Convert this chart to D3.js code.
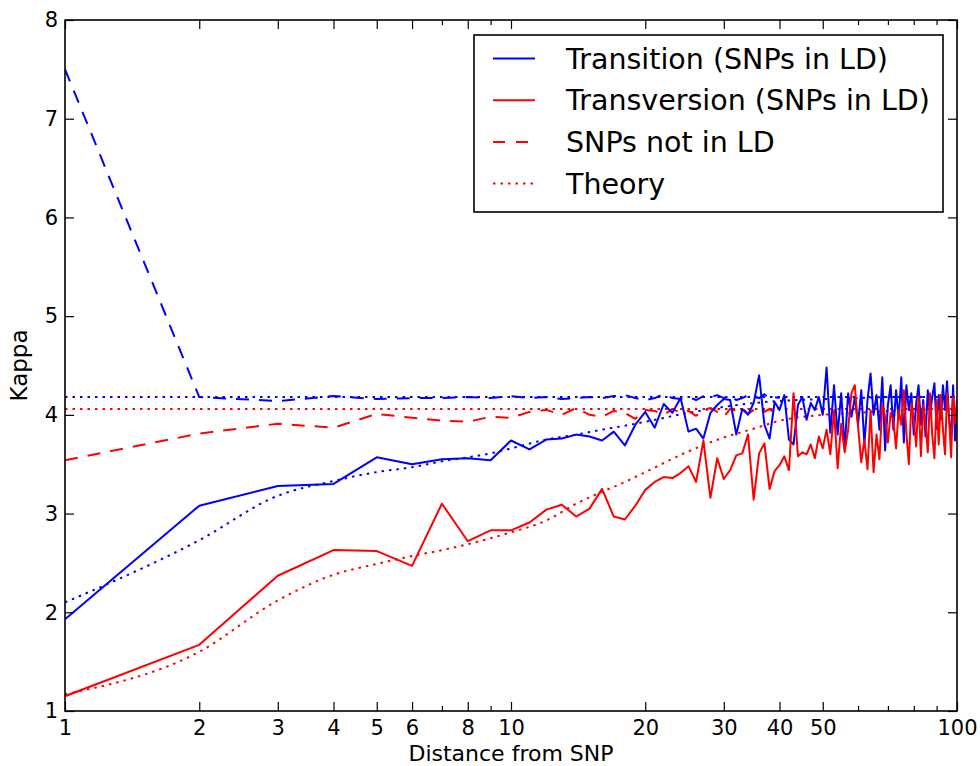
<!DOCTYPE html>
<html>
<head>
<meta charset="utf-8">
<script src="https://cdn.jsdelivr.net/npm/d3@7"></script>
<style>
  body { margin: 0; background: #fff; }
  svg text { font-family: "DejaVu Sans", sans-serif; fill: #000; }
</style>
</head>
<body>
<div id="chart-area"></div>
<script>
// Kappa vs distance from SNP (log x axis)
const MARGIN = {LEFT: 65, RIGHT: 23, TOP: 20, BOTTOM: 55}
const WIDTH = 980
const HEIGHT = 766

// distances 1..100 (one value per integer distance)
const distance = d3.range(1, 101)

// Transition, SNPs in LD (blue solid)
const transitionLD = [
  1.93, 3.08, 3.28, 3.30, 3.57, 3.50, 3.55, 3.56, 3.54, 3.74,
  3.65, 3.75, 3.76, 3.80, 3.78, 3.74, 3.83, 3.69, 3.90, 4.03,
  3.87, 4.11, 4.02, 4.17, 3.83, 3.86, 3.76, 4.02, 4.10, 4.16,
  4.15, 3.80, 4.06, 4.00, 4.12, 4.40, 3.90, 3.76, 4.13, 4.05,
  4.20, 3.75, 3.70, 4.10, 4.18, 3.95, 4.12, 4.05, 4.18, 4.00,
  4.48, 3.82, 4.30, 3.80, 4.22, 3.66, 4.22, 3.98, 4.18, 3.90,
  4.25, 3.70, 4.15, 4.42, 4.00, 4.20, 3.85, 4.38, 3.64, 4.10,
  4.30, 3.85, 4.25, 3.96, 4.38, 3.72, 4.30, 4.05, 4.22, 3.80,
  4.12, 4.30, 3.90, 4.15, 3.78, 4.25, 4.00, 4.18, 4.32, 3.86,
  4.20, 3.95, 4.30, 4.05, 4.34, 3.95, 3.75, 4.30, 3.74, 4.10
]

// Transversion, SNPs in LD (red solid)
const transversionLD = [
  1.15, 1.67, 2.37, 2.63, 2.62, 2.47, 3.10, 2.72, 2.83, 2.83,
  2.91, 3.04, 3.09, 2.97, 3.05, 3.25, 2.97, 2.94, 3.08, 3.24,
  3.32, 3.37, 3.36, 3.41, 3.48, 3.32, 3.74, 3.16, 3.56, 3.35,
  3.44, 3.59, 3.61, 3.80, 3.14, 3.61, 3.71, 3.25, 3.43, 3.49,
  3.58, 3.44, 4.22, 3.58, 3.62, 3.60, 3.70, 3.56, 3.78, 3.66,
  3.85, 3.60, 4.05, 3.46, 3.91, 3.62, 3.85, 4.22, 4.30, 3.88,
  3.52, 3.75, 3.45, 4.05, 3.42, 3.80, 3.55, 4.10, 3.98, 3.72,
  4.02, 3.95, 3.66, 4.05, 3.90, 4.25, 3.82, 3.50, 4.12, 3.95,
  3.68, 4.18, 3.58, 4.10, 3.92, 3.62, 4.22, 3.80, 3.56, 4.15,
  3.70, 4.20, 3.85, 3.60, 4.22, 3.98, 3.57, 4.18, 3.92, 4.15
]

// SNPs not in LD (dashed), distances 1..40
const transitionNotLD = [
  7.50, 4.18, 4.14, 4.19, 4.16, 4.17, 4.17, 4.18, 4.17, 4.19,
  4.17, 4.18, 4.16, 4.17, 4.18, 4.17, 4.19, 4.20, 4.17, 4.15,
  4.17, 4.21, 4.17, 4.16, 4.18, 4.15, 4.19, 4.18, 4.20, 4.17,
  4.19, 4.15, 4.17, 4.20, 4.18, 4.17, 4.21, 4.16, 4.18, 4.17
]
const transversionNotLD = [
  3.54, 3.81, 3.91, 3.87, 4.01, 3.97, 3.94, 3.93, 3.98, 3.97,
  4.03, 4.05, 4.00, 4.07, 4.00, 3.98, 4.04, 4.02, 3.96, 4.05,
  4.04, 4.00, 4.06, 4.02, 4.04, 3.99, 4.05, 4.07, 4.03, 3.98,
  4.06, 4.04, 4.07, 4.01, 4.05, 4.08, 4.03, 4.06, 4.02, 4.05
]

// Theory curves (dotted)
const theoryDistance = [1, 2, 3, 4, 5, 6, 7, 8, 9, 10, 12, 14, 16, 18, 20, 25, 30, 35, 40, 50, 60, 70, 80, 100]
const theoryTransition = [2.10, 2.73, 3.18, 3.33, 3.42, 3.47, 3.53, 3.57, 3.61, 3.66, 3.75, 3.80, 3.85, 3.89, 3.93, 4.02, 4.08, 4.12, 4.14, 4.16, 4.17, 4.18, 4.18, 4.18]
const theoryTransversion = [1.17, 1.60, 2.12, 2.38, 2.49, 2.57, 2.63, 2.69, 2.75, 2.81, 2.93, 3.10, 3.22, 3.32, 3.42, 3.63, 3.77, 3.86, 3.94, 4.00, 4.02, 4.04, 4.05, 4.07]
// asymptotes
const asymptoteTransition = 4.18
const asymptoteTransversion = 4.06

// axis ticks
const xMajorTicks = [1, 2, 3, 4, 5, 6, 8, 10, 20, 30, 40, 50, 100]
const xMinorTicks = [7, 9, 60, 70, 80, 90]
const yTicks = [1, 2, 3, 4, 5, 6, 7, 8]

const DASHED = "13,10"
const DOTTED = "2.5,5"

const legendItems = [
  {label: "Transition (SNPs in LD)", color: "blue", dash: null},
  {label: "Transversion (SNPs in LD)", color: "red", dash: null},
  {label: "SNPs not in LD", color: "red", dash: "12,11"},
  {label: "Theory", color: "red", dash: DOTTED}
]

const svg = d3.select("#chart-area").append("svg")
    .attr("width", WIDTH)
    .attr("height", HEIGHT)

const x = d3.scaleLog()
    .domain([1, 100])
    .range([MARGIN.LEFT, WIDTH - MARGIN.RIGHT])

const y = d3.scaleLinear()
    .domain([1, 8])
    .range([HEIGHT - MARGIN.BOTTOM, MARGIN.TOP])

svg.append("clipPath").attr("id", "plot-clip")
  .append("rect")
    .attr("x", x(1)).attr("y", y(8))
    .attr("width", x(100) - x(1)).attr("height", y(1) - y(8))

const plot = svg.append("g").attr("clip-path", "url(#plot-clip)")

const line = d3.line()
    .x(d => x(d[0]))
    .y(d => y(d[1]))

const smooth = d3.line()
    .x(d => x(d[0]))
    .y(d => y(d[1]))
    .curve(d3.curveMonotoneX)

function drawLine(gen, pts, color, dash) {
  plot.append("path")
    .datum(pts)
    .attr("d", gen)
    .attr("fill", "none")
    .attr("stroke", color)
    .attr("stroke-width", 2)
    .attr("stroke-linejoin", "round")
    .attr("stroke-dasharray", dash)
}

const zip = (xs, ys) => ys.map((v, i) => [xs[i], v])

// theory (dotted)
drawLine(line, [[1, asymptoteTransition], [100, asymptoteTransition]], "blue", DOTTED)
drawLine(line, [[1, asymptoteTransversion], [100, asymptoteTransversion]], "red", DOTTED)
drawLine(smooth, zip(theoryDistance, theoryTransition), "blue", DOTTED)
drawLine(smooth, zip(theoryDistance, theoryTransversion), "red", DOTTED)

// not in LD (dashed)
drawLine(line, zip(distance, transitionNotLD), "blue", DASHED)
drawLine(line, zip(distance, transversionNotLD), "red", DASHED)

// in LD (solid)
drawLine(line, zip(distance, transitionLD), "blue", null)
drawLine(line, zip(distance, transversionLD), "red", null)

// axes: ticks point inward on all four sides
function styleAxis(g) {
  g.select(".domain").remove()
  g.selectAll(".tick line").attr("stroke", "#000").attr("stroke-width", 1.2)
  g.selectAll("text").attr("font-size", "21px").attr("font-family", "DejaVu Sans, sans-serif").attr("fill", "#000")
}

svg.append("g")
    .attr("transform", `translate(0, ${y(1)})`)
    .call(d3.axisBottom(x).tickValues(xMajorTicks).tickFormat(d3.format("d")).tickSizeInner(-9).tickSizeOuter(0).tickPadding(9))
    .call(styleAxis)
svg.append("g")
    .attr("transform", `translate(0, ${y(1)})`)
    .call(d3.axisBottom(x).tickValues(xMinorTicks).tickFormat("").tickSizeInner(-5).tickSizeOuter(0))
    .call(styleAxis)
svg.append("g")
    .attr("transform", `translate(0, ${y(8)})`)
    .call(d3.axisTop(x).tickValues(xMajorTicks).tickFormat("").tickSizeInner(-9).tickSizeOuter(0))
    .call(styleAxis)
svg.append("g")
    .attr("transform", `translate(0, ${y(8)})`)
    .call(d3.axisTop(x).tickValues(xMinorTicks).tickFormat("").tickSizeInner(-5).tickSizeOuter(0))
    .call(styleAxis)
svg.append("g")
    .attr("transform", `translate(${x(1)}, 0)`)
    .call(d3.axisLeft(y).tickValues(yTicks).tickFormat(d3.format("d")).tickSizeInner(-9).tickSizeOuter(0).tickPadding(7))
    .call(styleAxis)
svg.append("g")
    .attr("transform", `translate(${x(100)}, 0)`)
    .call(d3.axisRight(y).tickValues(yTicks).tickFormat("").tickSizeInner(-9).tickSizeOuter(0))
    .call(styleAxis)

// frame
svg.append("rect")
    .attr("x", x(1)).attr("y", y(8))
    .attr("width", x(100) - x(1)).attr("height", y(1) - y(8))
    .attr("fill", "none")
    .attr("stroke", "#000")
    .attr("stroke-width", 1.6)

// X label
svg.append("text")
    .attr("x", (x(1) + x(100)) / 2)
    .attr("y", 760.5)
    .attr("font-size", "22px")
    .attr("text-anchor", "middle")
    .text("Distance from SNP")

// Y label
svg.append("text")
    .attr("x", -(y(1) + y(8)) / 2)
    .attr("y", 27)
    .attr("font-size", "23px")
    .attr("text-anchor", "middle")
    .attr("transform", "rotate(-90)")
    .text("Kappa")

// legend
const legend = svg.append("g")
legend.append("rect")
    .attr("x", 474).attr("y", 35)
    .attr("width", 469).attr("height", 177)
    .attr("fill", "#fff")
    .attr("stroke", "#000")
    .attr("stroke-width", 1.6)

legendItems.forEach((d, i) => {
  const ly = 58.5 + i * 41.7
  legend.append("line")
    .attr("x1", 493).attr("x2", 535)
    .attr("y1", ly).attr("y2", ly)
    .attr("stroke", d.color)
    .attr("stroke-width", 2)
    .attr("stroke-dasharray", d.dash)
  legend.append("text")
    .attr("x", 566)
    .attr("y", ly + 10)
    .attr("font-size", "28.5px")
    .text(d.label)
})
</script>
</body>
</html>
